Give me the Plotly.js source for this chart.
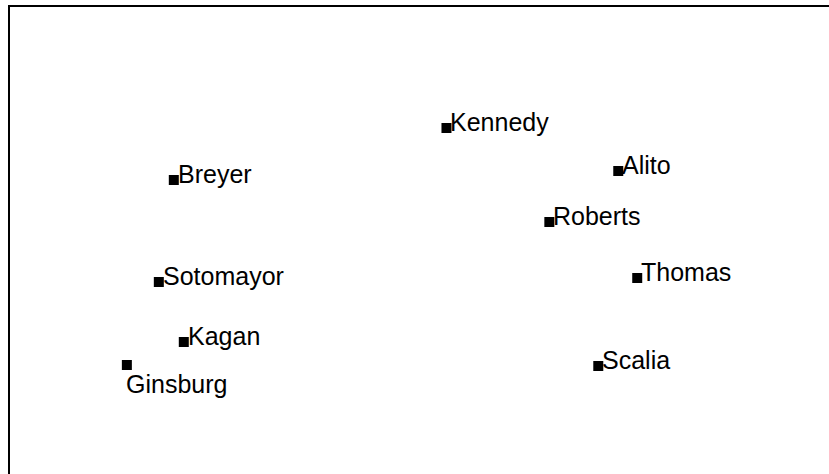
<!DOCTYPE html>
<html>
<head>
<meta charset="utf-8">
<script src="https://cdn.plot.ly/plotly-3.0.1.min.js"></script>
<style>html,body{margin:0;padding:0;background:#fff;}</style>
</head>
<body>
<div id="chart" style="width:829px;height:474px;"></div>
<script>
var justices = ["Kennedy", "Alito", "Roberts", "Thomas", "Scalia", "Breyer", "Sotomayor", "Kagan", "Ginsburg"];
var dim1 = [43.7, 60.9, 54.0, 62.8, 58.9, 16.4, 14.9, 17.4, 11.7];
var dim2 = [34.6, 30.3, 25.2, 19.6, 10.8, 29.4, 19.2, 13.2, 10.9];
var labelBelow = ["Ginsburg"];

var annotations = justices.map(function (name, i) {
  var below = labelBelow.indexOf(name) >= 0;
  return {
    x: dim1[i], y: dim2[i], xref: 'x', yref: 'y',
    text: name, showarrow: false,
    xanchor: 'left', yanchor: below ? 'top' : 'middle',
    xshift: below ? -3 : 2, yshift: below ? -3 : 6,
    font: {family: 'Liberation Sans, Arial, sans-serif', size: 25, color: '#000'}
  };
});

var trace = {
  x: dim1, y: dim2, text: justices, mode: 'markers', type: 'scatter',
  marker: {symbol: 'square', size: 10, color: '#000'},
  hoverinfo: 'text'
};

var layout = {
  width: 829, height: 474,
  margin: {l: 10, r: 0, t: 7, b: 0},
  paper_bgcolor: '#fff', plot_bgcolor: '#fff',
  showlegend: false,
  xaxis: {range: [0, 82], side: 'top', showline: true, linecolor: '#000', linewidth: 2,
          showgrid: false, zeroline: false, showticklabels: false, ticks: ''},
  yaxis: {range: [0, 46.7], showline: true, linecolor: '#000', linewidth: 2,
          showgrid: false, zeroline: false, showticklabels: false, ticks: ''},
  annotations: annotations
};

Plotly.newPlot('chart', [trace], layout, {displayModeBar: false, staticPlot: true});
</script>
</body>
</html>
